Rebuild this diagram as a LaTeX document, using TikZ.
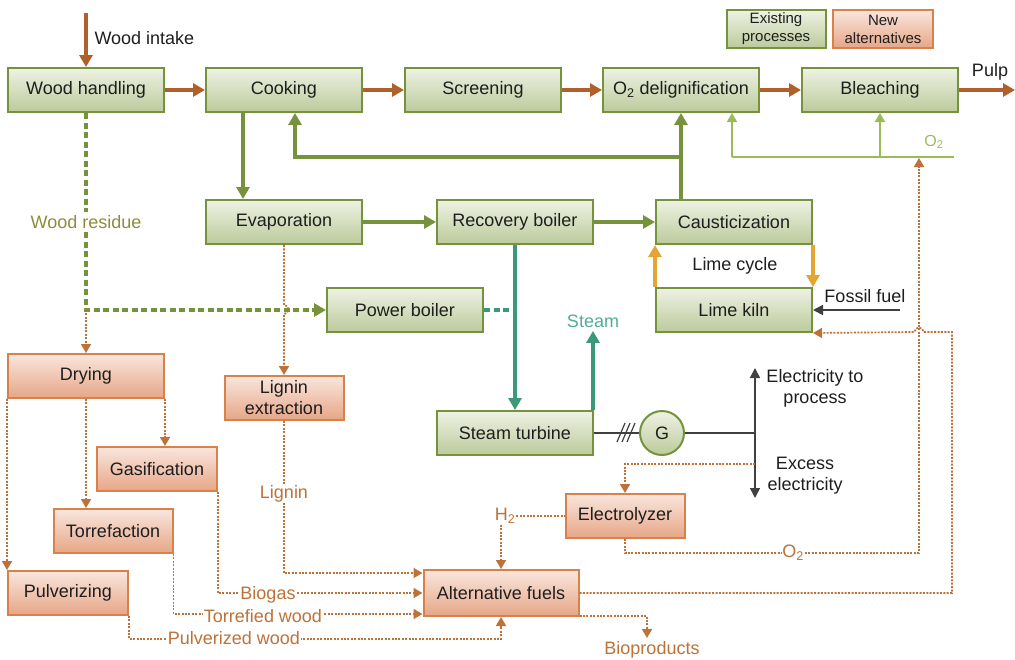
\documentclass[tikz,border=0pt]{standalone}
\usepackage{fontspec}
\setmainfont{Liberation Sans}
\usetikzlibrary{arrows.meta}
\definecolor{gb}{HTML}{76923C}
\definecolor{gtop}{HTML}{EEF2E4}
\definecolor{gbot}{HTML}{BCCA9B}
\definecolor{ob}{HTML}{D8814A}
\definecolor{otop}{HTML}{F9E6DE}
\definecolor{obot}{HTML}{E6A686}
\definecolor{br}{HTML}{B0602A}
\definecolor{dbr}{HTML}{BC7238}
\definecolor{stc}{HTML}{3A9A78}
\definecolor{stl}{HTML}{4FAE94}
\definecolor{lcy}{HTML}{E4A533}
\definecolor{lgc}{HTML}{9BBB59}
\definecolor{wrc}{HTML}{8C8C3C}
\definecolor{txt}{HTML}{1E1E1E}
\definecolor{kl}{HTML}{404040}
\begin{document}
\begin{tikzpicture}[x=1pt,y=-1pt,
  font=\fontsize{18}{21}\selectfont, text=txt,
  gbox/.style={draw=gb, line width=2pt, top color=gtop, bottom color=gbot,
    minimum width=156pt, minimum height=44pt, inner sep=0pt, align=center},
  obox/.style={draw=ob, line width=2pt, top color=otop, bottom color=obot,
    minimum height=44pt, inner sep=0pt, align=center},
  flow/.style={draw=br, line width=3.2pt, -{Triangle[length=12pt,width=13pt]}},
  gflow/.style={draw=gb, line width=3.2pt, -{Triangle[length=12pt,width=13pt]}},
  tflow/.style={draw=stc, line width=3.2pt, -{Triangle[length=12pt,width=13pt]}},
  lflow/.style={draw=lcy, line width=3.2pt, -{Triangle[length=12pt,width=13pt]}},
  gdash/.style={draw=gb, line width=3.2pt, dash pattern=on 6pt off 3.5pt},
  tdash/.style={draw=stc, line width=3.2pt, dash pattern=on 6pt off 3.5pt},
  dot/.style={draw=dbr, line width=1.7pt, dash pattern=on 2pt off 1.4pt},
  dotarr/.style={dot, -{Triangle[length=9pt,width=10pt]}},
  lgl/.style={draw=lgc, line width=1.6pt},
  lgarr/.style={lgl, -{Triangle[length=9pt,width=10pt]}},
  kline/.style={draw=kl, line width=1.6pt},
  karr/.style={kline, -{Triangle[length=10pt,width=10pt]}},
  lab/.style={text=dbr, fill=white, inner sep=1pt}]
\useasboundingbox (0,0) rectangle (1015,659);

% existing processes
\node[gbox] (wh) at (86,90) {Wood handling};
\node[gbox] (cook) at (284,90) {Cooking};
\node[gbox] (scr) at (483,90) {Screening};
\node[gbox] (o2d) at (681,90) {O\textsubscript{2} delignification};
\node[gbox] (bl) at (880,90) {Bleaching};
\node[gbox] (evap) at (284,222) {Evaporation};
\node[gbox] (rb) at (515,222) {Recovery boiler};
\node[gbox] (caus) at (734,222) {Causticization};
\node[gbox] (lk) at (734,310) {Lime kiln};
\node[gbox] (pb) at (405,310) {Power boiler};
\node[gbox] (st) at (515,433) {Steam turbine};
\node[circle, draw=gb, line width=2pt, top color=gtop, bottom color=gbot,
  minimum size=44pt, inner sep=0pt] (g) at (662,433) {G};

% legend
\node[gbox, minimum width=99pt, minimum height=38pt, font=\fontsize{15}{18}\selectfont] (leg1) at (776,29) {Existing\\processes};
\node[obox, minimum width=100pt, minimum height=38pt, font=\fontsize{15}{18}\selectfont] (leg2) at (883,29) {New\\alternatives};

% new alternatives
\node[obox, minimum width=156pt] (dry) at (86,376) {Drying};
\node[obox, minimum width=119pt] (lig) at (284,398) {Lignin\\extraction};
\node[obox, minimum width=120pt] (gas) at (157,469) {Gasification};
\node[obox, minimum width=119pt] (tor) at (113,531) {Torrefaction};
\node[obox, minimum width=120pt] (pul) at (68,593) {Pulverizing};
\node[obox, minimum width=119pt] (ele) at (625,516) {Electrolyzer};
\node[obox, minimum width=155pt, minimum height=46pt] (alt) at (501,593) {Alternative fuels};

% main fibre line
\coordinate (wi) at (86,13);
\draw[flow] (wi) -- (wh);
\node[anchor=west] (wil) at (91,38) {Wood intake};
\draw[flow] (wh) -- (cook);
\draw[flow] (cook) -- (scr);
\draw[flow] (scr) -- (o2d);
\draw[flow] (o2d) -- (bl);
\coordinate (pulp) at (1015,90);
\draw[flow] (bl) -- (pulp);
\node (pulpl) at (990,72) {Pulp};

% chemical recovery
\draw[gflow] ([xshift=-41pt]cook.south) -- ([xshift=-41pt]evap.north);
\draw[gflow] (o2d.south |- caus.north) -- (o2d.south);
\coordinate (fb) at (681,157);
\draw[gflow] (fb) -| ([xshift=11pt]cook.south);
\draw[gflow] (evap) -- (rb);
\draw[gflow] (rb) -- (caus);

% steam
\draw[tflow] (rb) -- (st);
\draw[tdash] (pb.east) -- (pb.east -| rb.south);
\node[text=stl] (steaml) at (593,321) {Steam};
\coordinate (stu) at ([xshift=-1pt]st.north east);
\draw[tflow] (stu) -- (steaml.south -| stu);

% lime cycle
\draw[lflow] (lk.north west) -- (caus.south west);
\draw[lflow] (caus.south east) -- (lk.north east);
\node (lcl) at (735,266) {Lime cycle};
\coordinate (ff) at (900,310);
\draw[karr] (ff) -- (lk.east);
\node (ffl) at (865,296) {Fossil fuel};

% wood residue
\node[text=wrc] (wr) at (86,222) {Wood residue};
\draw[gdash] (wh.south) -- (wr.north);
\coordinate (j1) at (86,310);
\draw[gdash, -{Triangle[length=12pt,width=13pt]}] (wr.south) -- (j1) -- (pb.west);
\draw[dotarr] (j1) -- (dry.north);
\draw[dotarr] (dry.south west) -- (pul.north west);
\draw[dotarr] (dry.south) -- (tor.north -| dry.south);
\draw[dotarr] (dry.south east) -- (gas.north -| dry.south east);

% lignin
\draw[dotarr] (evap.south) -- (284,305) arc (-90:90:4.5) -- (lig.north);
\draw[dotarr] (lig.south) |- ([yshift=20pt]alt.west);
\node[lab] (ligl) at (284,494) {Lignin};

% biomass routes
\draw[dotarr] (gas.south east) |- (alt.west);
\node[lab] (bgl) at (268,595) {Biogas};
\draw[dotarr] (tor.south east) |- ([yshift=-21pt]alt.west);
\node[lab] (twl) at (263,616) {Torrefied wood};
\draw[dotarr] (pul.south east) |- ([yshift=-22pt]alt.south) -- (alt.south);
\node[lab] (pwl) at (234,638) {Pulverized wood};

% bioproducts
\coordinate (bp) at (647,638);
\draw[dotarr] ([yshift=1pt]alt.south east) -| (bp);
\node[text=dbr] (bpl) at (652,650) {Bioproducts};

% alternative fuels to lime kiln
\draw[dotarr] (alt.east) -- (952,593) -- (952,332) -- (923.5,332) arc (0:-180:4.5) -- (lk.south east);

% generator and electricity
\draw[kline] (st.east) -- (g.west);
\foreach \i in {0,5,10} \draw[kline, line width=1.2pt] (617+\i,442) -- (625+\i,423);
\coordinate (ej) at (755,433);
\coordinate (eu) at (755,368);
\coordinate (ed) at (755,498);
\draw[kline] (g.east) -- (ej);
\draw[karr] (ej) -- (eu);
\draw[karr] (ej) -- (ed);
\node[align=center] (el1) at (815,388) {Electricity to\\process};
\node[align=center] (el2) at (805,476) {Excess\\electricity};
\coordinate (ex) at (755,464);
\draw[dotarr] (ex) -| (ele.north);

% electrolyzer products
\node[text=dbr, inner sep=1pt] (h2) at (505,516) {H\textsubscript{2}};
\draw[dot] (h2.east) -- (ele.west);
\draw[dotarr] (h2.south -| alt.north) -- (alt.north);
\node[lab] (o2b) at (793,553) {O\textsubscript{2}};
\draw[dot] (ele.south) |- (o2b.west);
\coordinate (o2t) at (919,158);
\draw[dotarr] (o2b.east) -| (o2t);

% oxygen distribution
\coordinate (o2r) at (954,157);
\coordinate (o2l) at (732,157);
\draw[lgl] (o2r) -- (o2l);
\draw[lgarr] (o2l) -- (o2l |- o2d.south);
\draw[lgarr] (bl.south |- o2r) -- (bl.south);
\node[text=lgc, font=\fontsize{16}{19}\selectfont] (o2tl) at (934,142) {O\textsubscript{2}};
\end{tikzpicture}
\end{document}
